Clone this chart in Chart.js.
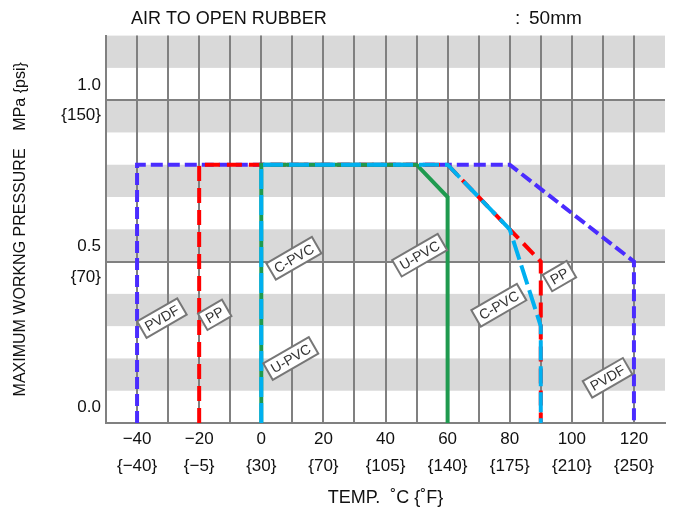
<!DOCTYPE html>
<html>
<head>
<meta charset="utf-8">
<title>Max working pressure</title>
<script src="https://cdn.jsdelivr.net/npm/chart.js@4/dist/chart.umd.min.js"></script>
<style>
  body { margin: 0; background: #fff; }
  #wrap { width: 674px; height: 516px; }
</style>
</head>
<body>
<div id="wrap"><canvas id="myChart" width="674" height="516"></canvas></div>
<script>
// Data (temperature in C, pressure in MPa)
const pvdfX = [-40, -40, 80, 120, 120];
const pvdfY = [0, 0.8, 0.8, 0.5, 0];
const ppX = [-20, -20, 60, 90, 90];
const ppY = [0, 0.8, 0.8, 0.5, 0];
const cpvcX = [0, 0, 60, 80, 90, 90];
const cpvcY = [0, 0.8, 0.8, 0.6, 0.3, 0];
const upvcX = [0, 0, 50, 60, 60];
const upvcY = [0, 0.8, 0.8, 0.7, 0];

// Tick labels
const xTicksC = [-40, -20, 0, 20, 40, 60, 80, 100, 120];
const xTicksF = ['{−40}', '{−5}', '{30}', '{70}', '{105}', '{140}', '{175}', '{210}', '{250}'];
const yTicksMPa = [0, 0.5, 1.0];
const yTicksPsi = ['', '{70}', '{150}'];

// Material tags along the curves
const tagText = ['PVDF', 'PP', 'C-PVC', 'U-PVC', 'U-PVC', 'C-PVC', 'PP', 'PVDF'];
const tagX = [-32, -15, 10.5, 9.5, 51, 76.5, 96, 111.5];
const tagY = [0.325, 0.335, 0.51, 0.2, 0.52, 0.365, 0.455, 0.14];

const toPoints = (xs, ys) => xs.map((x, i) => ({ x: x, y: ys[i] }));
const minus = v => String(v).replace('-', '−');
const FONT = '"Liberation Sans", Arial, sans-serif';

// Gray stripes behind the grid
const bandPlugin = {
    id: 'bands',
    beforeDraw(chart) {
        const { ctx, chartArea, scales } = chart;
        ctx.save();
        ctx.fillStyle = '#d9d9d9';
        for (let v = 0.1; v < 1.2; v += 0.2) {
            const top = scales.y.getPixelForValue(v + 0.1);
            const bot = scales.y.getPixelForValue(v);
            ctx.fillRect(chartArea.left, top, chartArea.right - chartArea.left, bot - top);
        }
        ctx.restore();
    }
};

// Titles at the top
const headPlugin = {
    id: 'head',
    afterDraw(chart) {
        const ctx = chart.ctx;
        ctx.save();
        ctx.fillStyle = '#111';
        ctx.textBaseline = 'middle';
        ctx.font = '18px ' + FONT;
        ctx.fillText('AIR TO OPEN RUBBER', 131, 19);
        ctx.font = '19px ' + FONT;
        ctx.fillText(':', 515, 19);
        ctx.fillText('50mm', 529, 19);
        ctx.restore();
    }
};

// Boxed, tilted labels
const tagPlugin = {
    id: 'tags',
    afterDatasetsDraw(chart) {
        const { ctx, scales } = chart;
        ctx.save();
        ctx.font = '14px ' + FONT;
        tagText.forEach((t, i) => {
            const px = scales.x.getPixelForValue(tagX[i]);
            const py = scales.y.getPixelForValue(tagY[i]);
            const w = ctx.measureText(t).width + 9;
            const h = 19;
            ctx.save();
            ctx.translate(px, py);
            ctx.rotate(-Math.PI / 6);
            ctx.fillStyle = '#fff';
            ctx.fillRect(-w / 2, -h / 2, w, h);
            ctx.strokeStyle = '#777';
            ctx.lineWidth = 2;
            ctx.strokeRect(-w / 2, -h / 2, w, h);
            ctx.fillStyle = '#333';
            ctx.textAlign = 'center';
            ctx.textBaseline = 'middle';
            ctx.fillText(t, 0, 1);
            ctx.restore();
        });
        ctx.restore();
    }
};

const ctx = document.getElementById('myChart').getContext('2d');

new Chart(ctx, {
    type: 'line',
    data: {
        datasets: [
            { label: 'C-PVC', data: toPoints(cpvcX, cpvcY), borderColor: '#00b0f0', borderDash: [20, 6], borderWidth: 4 },
            { label: 'U-PVC', data: toPoints(upvcX, upvcY), borderColor: '#1f9a4f', borderWidth: 4 },
            { label: 'PP', data: toPoints(ppX, ppY), borderColor: '#ff0000', borderDash: [15, 7], borderWidth: 4 },
            { label: 'PVDF', data: toPoints(pvdfX, pvdfY), borderColor: '#4a2cff', borderDash: [12, 5], borderWidth: 4 }
        ]
    },
    options: {
        responsive: false,
        animation: false,
        devicePixelRatio: 1,
        layout: { padding: { top: 35, right: 9 } },
        elements: {
            point: { radius: 0 },
            line: { tension: 0, fill: false, borderCapStyle: 'butt', borderJoinStyle: 'miter' }
        },
        plugins: {
            legend: { display: false },
            tooltip: { enabled: false }
        },
        scales: {
            x: {
                type: 'linear',
                min: -50,
                max: 130,
                afterBuildTicks: s => {
                    const t = [];
                    for (let v = -40; v <= 120; v += 10) t.push({ value: v });
                    s.ticks = t;
                },
                afterFit: s => { s.height = 93; },
                ticks: {
                    autoSkip: false,
                    maxRotation: 0,
                    padding: 3,
                    color: '#111',
                    font: { family: FONT, size: 17, lineHeight: 1.6 },
                    callback: v => {
                        const i = xTicksC.indexOf(v);
                        return i < 0 ? '' : [minus(v), xTicksF[i]];
                    }
                },
                grid: { color: '#808080', lineWidth: 2, drawTicks: false },
                border: { color: '#808080', width: 2 },
                title: {
                    display: true,
                    text: 'TEMP.  ˚C {˚F}',
                    color: '#111',
                    font: { family: FONT, size: 18 },
                    padding: { top: 0, bottom: 7 }
                }
            },
            y: {
                min: 0,
                max: 1.2,
                afterBuildTicks: s => { s.ticks = yTicksMPa.map(v => ({ value: v })); },
                afterFit: s => { s.width = 106; },
                ticks: {
                    padding: 5,
                    color: '#111',
                    font: { family: FONT, size: 17, lineHeight: 1.8 },
                    callback: v => {
                        const i = yTicksMPa.indexOf(v);
                        return [v.toFixed(1), yTicksPsi[i]];
                    }
                },
                grid: {
                    color: c => (c.tick && c.tick.value === 0 ? 'rgba(0,0,0,0)' : '#808080'),
                    lineWidth: 2,
                    drawTicks: false
                },
                border: { color: '#808080', width: 2 },
                title: {
                    display: true,
                    text: 'MAXIMUM WORKNG PRESSURE    MPa {psi}',
                    color: '#111',
                    font: { family: FONT, size: 16 },
                    padding: { top: 11, bottom: 0 }
                }
            }
        }
    },
    plugins: [bandPlugin, tagPlugin, headPlugin]
});
</script>
</body>
</html>
